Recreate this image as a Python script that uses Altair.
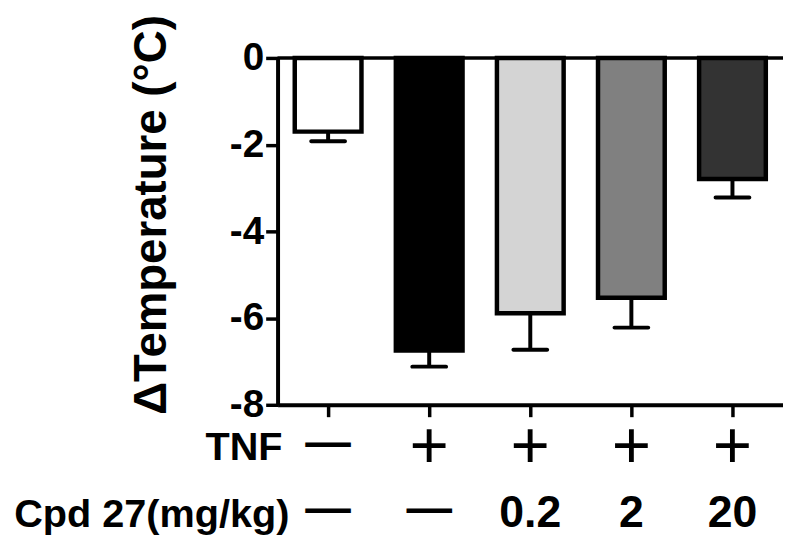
import altair as alt
import pandas as pd

# ---- data ----
groups = ["Vehicle", "TNF", "TNF+0.2", "TNF+2", "TNF+20"]
mean_delta = [-1.70, -6.75, -5.89, -5.53, -2.79]
sem_delta = [0.22, 0.37, 0.84, 0.69, 0.43]
tnf_row = ["—", "+", "+", "+", "+"]
cpd_row = ["—", "—", "0.2", "2", "20"]
y_ticks = [0, -2, -4, -6, -8]

# ---- styles ----
bar_colors = ["#ffffff", "#000000", "#d4d4d4", "#808080", "#333333"]
FONT = "Liberation Sans"

df = pd.DataFrame({
    "group": groups,
    "mean": mean_delta,
    "sem": sem_delta,
    "tnf": tnf_row,
    "cpd": cpd_row,
})

x_enc = alt.X(
    "group:N",
    sort=groups,
    scale=alt.Scale(domain=groups, paddingInner=0.34, paddingOuter=0.17),
    axis=alt.Axis(
        labels=False, title=None, tickSize=12, tickWidth=3.5, tickColor="black",
        domainWidth=4, domainColor="black", grid=False,
    ),
)
y_scale = alt.Scale(domain=[-8, 0], nice=False)
y_axis = alt.Axis(
    values=y_ticks, tickSize=12, tickWidth=3.5, tickColor="black",
    domainWidth=4, domainColor="black", grid=False,
    labelExpr="'' + datum.value",
    labelFont=FONT, labelFontSize=39, labelFontWeight="bold", labelColor="black",
    labelPadding=2,
    title="ΔTemperature (°C)", titleFont=FONT, titleFontSize=46,
    titleFontWeight="bold", titleColor="black", titleX=-103, titleY=158,
)

base = alt.Chart(df)

err_rule = base.transform_calculate(lower="datum.mean - datum.sem").mark_rule(
    color="black", strokeWidth=4
).encode(x=x_enc, y=alt.Y("mean:Q", scale=y_scale, axis=y_axis), y2="lower:Q")

err_cap = base.transform_calculate(lower="datum.mean - datum.sem").mark_tick(
    color="black", size=38, thickness=4, orient="horizontal", opacity=1,
    cornerRadius=2
).encode(x=x_enc, y=alt.Y("lower:Q", scale=y_scale))

bars = base.mark_bar(stroke="black", strokeWidth=4.5, opacity=1).encode(
    x=x_enc,
    y=alt.Y("mean:Q", scale=y_scale, axis=y_axis),
    color=alt.Color("group:N", scale=alt.Scale(domain=groups, range=bar_colors), legend=None),
)

zero_rule = alt.Chart(pd.DataFrame({"z": [0]})).mark_rule(
    color="black", strokeWidth=3.5
).encode(y=alt.Y("z:Q", scale=y_scale))

# bottom rows of treatment labels
tnf_plus = base.transform_filter(alt.datum.tnf == "+").mark_text(
    font=FONT, fontSize=68, fontWeight="normal", color="black", baseline="alphabetic"
).encode(x=x_enc, y=alt.value(414), text="tnf:N")

tnf_dash = base.transform_filter(alt.datum.tnf == "—").mark_text(
    font=FONT, fontSize=46, fontWeight="bold", color="black", baseline="alphabetic"
).encode(x=x_enc, y=alt.value(403), text="tnf:N")

cpd_dash = base.transform_filter(alt.datum.cpd == "—").mark_text(
    font=FONT, fontSize=46, fontWeight="bold", color="black", baseline="alphabetic"
).encode(x=x_enc, y=alt.value(469), text="cpd:N")

cpd_num = base.transform_filter(alt.datum.cpd != "—").mark_text(
    font=FONT, fontSize=45, fontWeight="bold", color="black", baseline="alphabetic"
).encode(x=x_enc, y=alt.value(473), text="cpd:N")

row_titles = pd.DataFrame({"t": ["TNF", "Cpd 27(mg/kg)"]})
tnf_title = alt.Chart(row_titles).transform_filter(alt.datum.t == "TNF").mark_text(
    font=FONT, fontSize=40, fontWeight="bold", color="black", align="right",
    baseline="alphabetic"
).encode(x=alt.value(5), y=alt.value(406), text="t:N")

cpd_title = alt.Chart(row_titles).transform_filter(alt.datum.t != "TNF").mark_text(
    font=FONT, fontSize=40, fontWeight="bold", color="black", align="right",
    baseline="alphabetic"
).encode(x=alt.value(12), y=alt.value(473), text="t:N")

chart = alt.layer(
    err_rule, err_cap, bars, zero_rule,
    tnf_plus, tnf_dash, cpd_dash, cpd_num, tnf_title, cpd_title,
).properties(
    width=510, height=350,
    autosize=alt.AutoSizeParams(type="none"),
    padding={"left": 272, "top": 48, "right": 0, "bottom": 129},
    background="white",
).configure_view(strokeWidth=0)

chart.save("out.html", embed_options={"renderer": "svg", "actions": False})
